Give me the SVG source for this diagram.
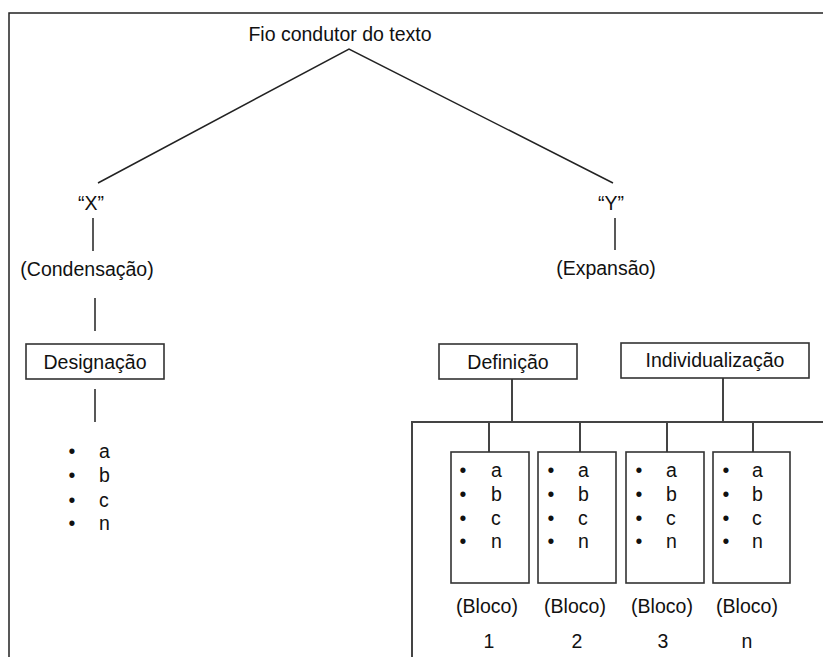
<svg xmlns="http://www.w3.org/2000/svg" width="823" height="657" viewBox="0 0 823 657">
<style>
text{font-family:"Liberation Sans",Arial,sans-serif;font-size:19.5px;fill:#111}
.c{text-anchor:middle}
.b{text-anchor:middle}
.ln{stroke:#222;stroke-width:1.5;fill:none}
.g{stroke:#444;stroke-width:2;fill:none}
.box{fill:#fff;stroke:#333;stroke-width:1.6}
</style>
<rect width="823" height="657" fill="#fff"/>
<g id="frame"><path class="ln" d="M9,657 V13 H823"/></g>
<g id="connectors">
<path class="ln" d="M98,183 L349,49 L613,183"/>
<path class="ln" d="M93,218 V251 M95,298 V331 M95,389 V422"/>
<path class="ln" d="M615,218 V250"/>
<path class="g" d="M512,379 V422 M723,378 V422 M412,657 V422 H823"/>
<path class="g" d="M489,422 V452 M580,422 V452 M667,422 V452 M753,422 V452"/>
</g>
<g id="title"><text class="c" x="340" y="41">Fio condutor do texto</text></g>
<g id="x"><text class="c" x="91" y="210">“X”</text></g>
<g id="condensacao"><text class="c" x="87" y="276">(Condensação)</text></g>
<g id="y"><text class="c" x="611" y="210">“Y”</text></g>
<g id="expansao"><text class="c" x="606" y="275">(Expansão)</text></g>
<g id="designacao"><rect class="box" x="26" y="344" width="138" height="35"/><text class="c" x="95" y="369">Designação</text></g>
<g id="designacao-list">
<text class="b" x="72" y="458">•</text><text x="99" y="458">a</text>
<text class="b" x="72" y="482">•</text><text x="99" y="482">b</text>
<text class="b" x="72" y="507">•</text><text x="99" y="507">c</text>
<text class="b" x="72" y="530">•</text><text x="99" y="530">n</text>
</g>
<g id="definicao"><rect class="box" x="439" y="344" width="138" height="35"/><text class="c" x="508" y="369">Definição</text></g>
<g id="individualizacao"><rect class="box" x="621" y="343" width="188" height="35"/><text class="c" x="715" y="367">Individualização</text></g>
<g id="bloco1"><rect class="box" x="451" y="452" width="78" height="131"/>
<text class="b" x="463" y="477">•</text><text x="491" y="477">a</text>
<text class="b" x="463" y="501">•</text><text x="491" y="501">b</text>
<text class="b" x="463" y="525">•</text><text x="491" y="525">c</text>
<text class="b" x="463" y="548">•</text><text x="491" y="548">n</text>
<text class="c" x="487" y="613">(Bloco)</text><text class="c" x="489" y="648">1</text></g>
<g id="bloco2"><rect class="box" x="538" y="452" width="78" height="131"/>
<text class="b" x="551" y="477">•</text><text x="578" y="477">a</text>
<text class="b" x="551" y="501">•</text><text x="578" y="501">b</text>
<text class="b" x="551" y="525">•</text><text x="578" y="525">c</text>
<text class="b" x="551" y="548">•</text><text x="578" y="548">n</text>
<text class="c" x="575" y="613">(Bloco)</text><text class="c" x="577" y="648">2</text></g>
<g id="bloco3"><rect class="box" x="626" y="452" width="78" height="131"/>
<text class="b" x="639" y="477">•</text><text x="666" y="477">a</text>
<text class="b" x="639" y="501">•</text><text x="666" y="501">b</text>
<text class="b" x="639" y="525">•</text><text x="666" y="525">c</text>
<text class="b" x="639" y="548">•</text><text x="666" y="548">n</text>
<text class="c" x="662" y="613">(Bloco)</text><text class="c" x="663" y="648">3</text></g>
<g id="blocon"><rect class="box" x="713" y="452" width="77" height="131"/>
<text class="b" x="726" y="477">•</text><text x="752" y="477">a</text>
<text class="b" x="726" y="501">•</text><text x="752" y="501">b</text>
<text class="b" x="726" y="525">•</text><text x="752" y="525">c</text>
<text class="b" x="726" y="548">•</text><text x="752" y="548">n</text>
<text class="c" x="747" y="613">(Bloco)</text><text class="c" x="747" y="648">n</text></g>
</svg>
